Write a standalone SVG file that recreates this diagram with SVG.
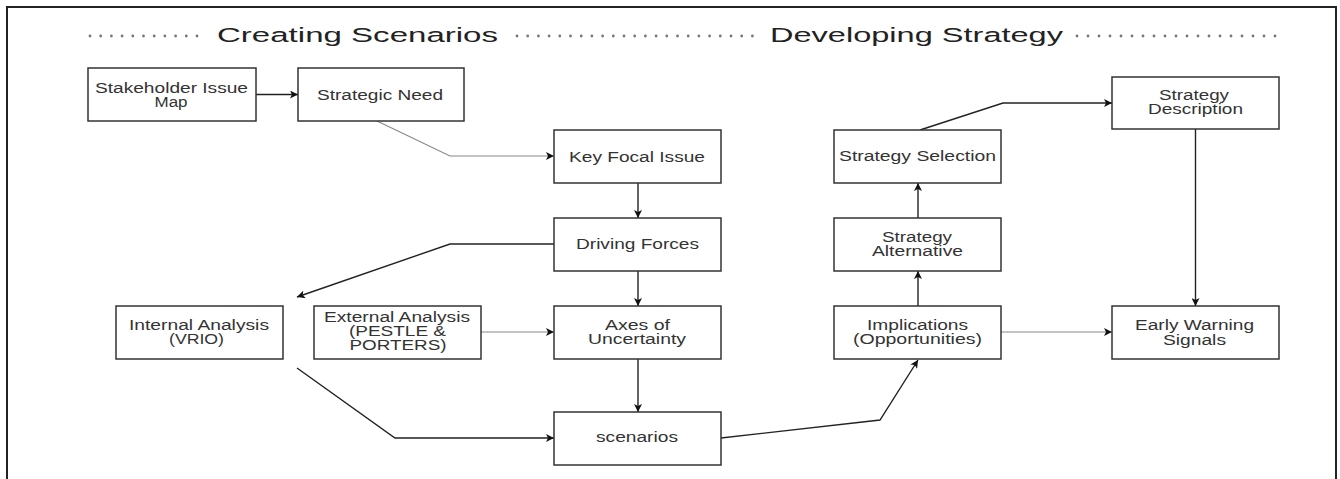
<svg xmlns="http://www.w3.org/2000/svg" width="1340" height="479" viewBox="0 0 1340 479">
<style>
  .box { fill: #ffffff; stroke: #333333; stroke-width: 1.5; }
  .t { font-family: "Liberation Sans", Arial, sans-serif; font-size: 14px; fill: #333333; text-anchor: middle; }
  .h { font-family: "Liberation Sans", Arial, sans-serif; font-size: 20.5px; fill: #222222; text-anchor: middle; }
  .dots { stroke: #777777; stroke-width: 2.8; stroke-linecap: round; fill: none; }
  .c { fill: none; stroke: #222222; stroke-width: 1.4; }
  .cl { fill: none; stroke: #888888; stroke-width: 1.1; }
</style>
<defs>
  <marker id="ah" viewBox="0 0 10 10" refX="10" refY="5" markerWidth="9" markerHeight="8" markerUnits="userSpaceOnUse" orient="auto">
    <path d="M0,0 L10,5 L0,10 L2.5,5 Z" fill="#111111"/>
  </marker>
</defs>
<rect width="1340" height="479" fill="#ffffff"/>
<rect x="7" y="7" width="1329" height="490" fill="none" stroke="#222222" stroke-width="2"/>

<g id="header">
  <line class="dots" x1="90" y1="36" x2="198" y2="36" stroke-dasharray="0 10.7"/>
  <text class="h" x="357.5" y="42" textLength="281" lengthAdjust="spacingAndGlyphs">Creating Scenarios</text>
  <line class="dots" x1="517" y1="36" x2="753" y2="36" stroke-dasharray="0 10.7"/>
  <text class="h" x="916.5" y="42" textLength="293" lengthAdjust="spacingAndGlyphs">Developing Strategy</text>
  <line class="dots" x1="1077" y1="36" x2="1276" y2="36" stroke-dasharray="0 11"/>
</g>

<g id="connectors">
  <line class="c" x1="256" y1="94.5" x2="298" y2="94.5" marker-end="url(#ah)"/>
  <path class="cl" d="M377,121 L450,156 H554" marker-end="url(#ah)"/>
  <line class="c" x1="638" y1="183" x2="638" y2="218" marker-end="url(#ah)"/>
  <path class="c" d="M554,244 H450 L297,297" marker-end="url(#ah)"/>
  <line class="c" x1="638" y1="271" x2="638" y2="306" marker-end="url(#ah)"/>
  <line class="cl" x1="481" y1="332" x2="554" y2="332" marker-end="url(#ah)"/>
  <line class="c" x1="638" y1="359" x2="638" y2="412" marker-end="url(#ah)"/>
  <path class="c" d="M297,368 L395,438 H554" marker-end="url(#ah)"/>
  <path class="c" d="M721,438 L880,420 L918,360" marker-end="url(#ah)"/>
  <line class="c" x1="918" y1="306" x2="918" y2="271" marker-end="url(#ah)"/>
  <line class="c" x1="918" y1="218" x2="918" y2="183" marker-end="url(#ah)"/>
  <path class="c" d="M920,130 L1003,103 H1112" marker-end="url(#ah)"/>
  <line class="c" x1="1195.5" y1="129" x2="1195.5" y2="306" marker-end="url(#ah)"/>
  <line class="cl" x1="1001" y1="332" x2="1112" y2="332" marker-end="url(#ah)"/>
</g>

<g id="stakeholder-issue-map">
  <rect class="box" x="88" y="68" width="168" height="53"/>
  <text class="t" x="171.5" y="93" textLength="153" lengthAdjust="spacingAndGlyphs">Stakeholder Issue</text>
  <text class="t" x="171" y="107" textLength="33" lengthAdjust="spacingAndGlyphs">Map</text>
</g>
<g id="strategic-need">
  <rect class="box" x="298" y="68" width="166" height="53"/>
  <text class="t" x="380" y="99.5" textLength="126" lengthAdjust="spacingAndGlyphs">Strategic Need</text>
</g>
<g id="key-focal-issue">
  <rect class="box" x="554" y="130" width="167" height="53"/>
  <text class="t" x="637" y="161.5" textLength="136" lengthAdjust="spacingAndGlyphs">Key Focal Issue</text>
</g>
<g id="driving-forces">
  <rect class="box" x="554" y="218" width="167" height="53"/>
  <text class="t" x="637.5" y="249" textLength="123" lengthAdjust="spacingAndGlyphs">Driving Forces</text>
</g>
<g id="internal-analysis">
  <rect class="box" x="116" y="306" width="167" height="53"/>
  <text class="t" x="199" y="330" textLength="140" lengthAdjust="spacingAndGlyphs">Internal Analysis</text>
  <text class="t" x="196.5" y="344" textLength="55" lengthAdjust="spacingAndGlyphs">(VRIO)</text>
</g>
<g id="external-analysis">
  <rect class="box" x="314" y="306" width="167" height="53"/>
  <text class="t" x="397" y="322" textLength="146" lengthAdjust="spacingAndGlyphs">External Analysis</text>
  <text class="t" x="397.5" y="336" textLength="97" lengthAdjust="spacingAndGlyphs">(PESTLE &amp;</text>
  <text class="t" x="398" y="350" textLength="97" lengthAdjust="spacingAndGlyphs">PORTERS)</text>
</g>
<g id="axes-of-uncertainty">
  <rect class="box" x="554" y="306" width="167" height="53"/>
  <text class="t" x="637.5" y="330" textLength="65" lengthAdjust="spacingAndGlyphs">Axes of</text>
  <text class="t" x="637" y="344" textLength="98" lengthAdjust="spacingAndGlyphs">Uncertainty</text>
</g>
<g id="scenarios">
  <rect class="box" x="554" y="412" width="167" height="53"/>
  <text class="t" x="637" y="442" textLength="82" lengthAdjust="spacingAndGlyphs">scenarios</text>
</g>
<g id="implications">
  <rect class="box" x="834" y="306" width="167" height="53"/>
  <text class="t" x="917.5" y="330" textLength="101" lengthAdjust="spacingAndGlyphs">Implications</text>
  <text class="t" x="917.5" y="344" textLength="129" lengthAdjust="spacingAndGlyphs">(Opportunities)</text>
</g>
<g id="strategy-alternative">
  <rect class="box" x="834" y="218" width="167" height="53"/>
  <text class="t" x="917" y="242" textLength="70" lengthAdjust="spacingAndGlyphs">Strategy</text>
  <text class="t" x="917.5" y="256" textLength="91" lengthAdjust="spacingAndGlyphs">Alternative</text>
</g>
<g id="strategy-selection">
  <rect class="box" x="834" y="130" width="167" height="53"/>
  <text class="t" x="917.5" y="161" textLength="157" lengthAdjust="spacingAndGlyphs">Strategy Selection</text>
</g>
<g id="strategy-description">
  <rect class="box" x="1112" y="77" width="167" height="52"/>
  <text class="t" x="1194" y="99.5" textLength="70" lengthAdjust="spacingAndGlyphs">Strategy</text>
  <text class="t" x="1195.5" y="114" textLength="95" lengthAdjust="spacingAndGlyphs">Description</text>
</g>
<g id="early-warning-signals">
  <rect class="box" x="1112" y="306" width="167" height="53"/>
  <text class="t" x="1194.5" y="330" textLength="119" lengthAdjust="spacingAndGlyphs">Early Warning</text>
  <text class="t" x="1194.5" y="345" textLength="63" lengthAdjust="spacingAndGlyphs">Signals</text>
</g>
</svg>
